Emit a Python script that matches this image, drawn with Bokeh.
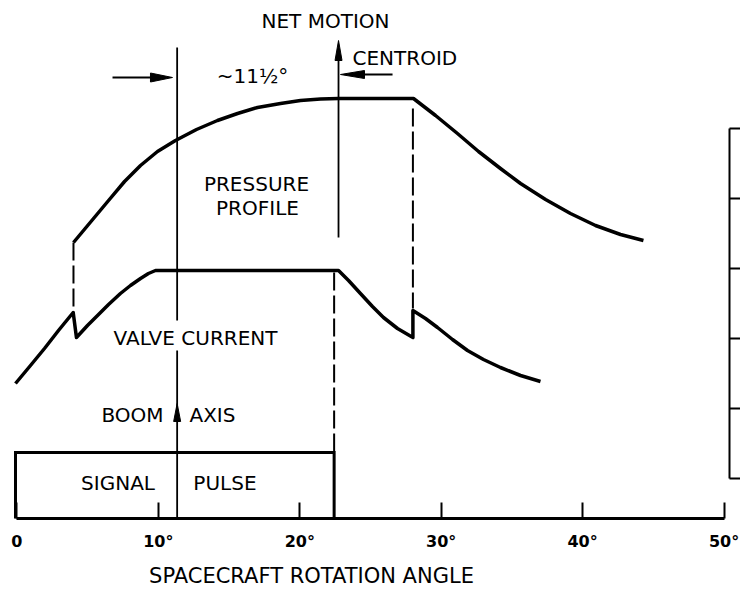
from bokeh.plotting import figure
from bokeh.models import LinearAxis, FixedTicker, Range1d
from bokeh.core.properties import value
from bokeh.embed import file_html
from bokeh.resources import INLINE

# ---------------- data (angle in degrees, level in arbitrary units) ----------------
ANGLE_TICKS = [0, 10, 20, 30, 40, 50]
ANGLE_LABELS = ["0", "10°", "20°", "30°", "40°", "50°"]

pressure_angle = [4.00, 6.48, 7.61, 8.74, 9.94, 11.21, 12.70, 14.18, 15.60, 17.01,
                  18.64, 20.05, 21.47, 22.74, 28.04,
                  29.60, 31.15, 32.64, 34.19, 35.61, 37.38, 39.14, 40.91, 42.68, 44.30]
pressure_level = [276, 318, 337, 353, 367, 378, 389, 398, 405, 411,
                  415, 418, 419.5, 420, 420,
                  403, 385, 367, 350, 335, 319, 305, 293, 284, 278]

valve_angle = [-0.10, 0.96, 1.95, 2.94, 3.98, 4.21, 4.99, 5.70, 6.48, 7.32, 8.03, 8.74, 9.30, 9.80,
               22.74, 23.45, 24.29, 25.14, 25.92, 26.91, 28.00,
               28.00, 28.89, 29.74, 30.80, 31.86, 32.99, 34.19, 35.61, 37.02]
valve_level = [135, 153, 170, 188, 206, 181, 193, 203, 214, 225, 233, 240, 245, 248,
               248, 238, 225, 212, 201, 190, 181,
               208, 200, 191, 179, 168, 159, 151, 143, 137]

pulse_angle = [-0.10, -0.10, 22.43, 22.43]
pulse_level = [0, 66, 66, 0]

BOOM_ANGLE = 11.33
CENTROID_ANGLE = 22.74
PULSE_END = 22.43
JUMP_1 = 4.00
JUMP_2 = 28.00

SCALE_TICKS = [40, 110, 180, 250, 320, 390]
SCALE_ANGLE = 50.39

# ---------------- figure ----------------
PX_PER_DEG = 14.143      # horizontal pixels per degree
PX_PER_UNIT = 1.0        # vertical pixels per level unit

p = figure(width=740, height=590,
           x_range=Range1d(-1.160, 51.163), y_range=Range1d(-72, 518),
           output_backend="svg", toolbar_location=None,
           x_axis_location=None, y_axis_location=None, min_border=0)
p.outline_line_color = None
p.background_fill_color = "white"
p.border_fill_color = "white"
p.grid.visible = False

INK = "black"
FONT = value("DejaVu Sans")

# bottom axis (spacecraft rotation angle)
xaxis = LinearAxis(ticker=FixedTicker(ticks=ANGLE_TICKS),
                   major_label_overrides={t: l for t, l in zip(ANGLE_TICKS, ANGLE_LABELS)},
                   fixed_location=0, bounds=(ANGLE_TICKS[0], ANGLE_TICKS[-1]))
xaxis.axis_line_width = 3
xaxis.axis_line_color = INK
xaxis.major_tick_in = 16
xaxis.major_tick_out = 0
xaxis.major_tick_line_width = 2
xaxis.major_tick_line_color = INK
xaxis.minor_tick_line_color = None
xaxis.major_label_standoff = 13
xaxis.major_label_text_font = "DejaVu Sans"
xaxis.major_label_text_font_style = "bold"
xaxis.major_label_text_font_size = "16px"
xaxis.major_label_text_color = INK
p.add_layout(xaxis, "below")

# right-hand scale bracket
yaxis = LinearAxis(ticker=FixedTicker(ticks=SCALE_TICKS), fixed_location=SCALE_ANGLE,
                   bounds=(SCALE_TICKS[0], SCALE_TICKS[-1]))
yaxis.axis_line_width = 2
yaxis.axis_line_color = INK
yaxis.major_tick_in = 0
yaxis.major_tick_out = 14
yaxis.major_tick_line_width = 2
yaxis.major_tick_line_color = INK
yaxis.minor_tick_line_color = None
yaxis.major_label_text_color = None
p.add_layout(yaxis, "right")

# curves
p.line(pressure_angle, pressure_level, line_width=3.5, line_color=INK, line_join="round")
p.line(valve_angle, valve_level, line_width=3.5, line_color=INK, line_join="round")
p.line(pulse_angle, pulse_level, line_width=3, line_color=INK, line_join="miter")

# dashed projection lines
p.multi_line(xs=[[JUMP_1, JUMP_1], [PULSE_END, PULSE_END], [JUMP_2, JUMP_2]],
             ys=[[276, 206], [246, 66], [410, 210]],
             line_width=2, line_color=INK, line_dash="18 5")

# boom axis and centroid lines
p.multi_line(xs=[[BOOM_ANGLE, BOOM_ANGLE], [BOOM_ANGLE, BOOM_ANGLE], [CENTROID_ANGLE, CENTROID_ANGLE]],
             ys=[[471, 198], [168, 0], [470, 281]],
             line_width=1.8, line_color=INK)

# horizontal arrow shafts
p.multi_line(xs=[[6.76, 10.0], [26.56, 23.9]], ys=[[441, 441], [444, 444]],
             line_width=1.8, line_color=INK)


def head(tx, ty, direction, length_px, width_px):
    ldeg = length_px / PX_PER_DEG
    hw_deg = width_px / 2 / PX_PER_DEG
    lu = length_px / PX_PER_UNIT
    hwu = width_px / 2 / PX_PER_UNIT
    if direction == "up":
        return [tx, tx - hw_deg, tx + hw_deg], [ty, ty - lu, ty - lu]
    if direction == "right":
        return [tx, tx - ldeg, tx - ldeg], [ty, ty + hwu, ty - hwu]
    return [tx, tx + ldeg, tx + ldeg], [ty, ty + hwu, ty - hwu]


heads = [head(CENTROID_ANGLE, 478, "up", 20, 7),
         head(BOOM_ANGLE, 115, "up", 18, 7),
         head(11.0, 441, "right", 22, 9),
         head(22.88, 444, "left", 24, 8)]
p.patches(xs=[h[0] for h in heads], ys=[h[1] for h in heads],
          fill_color=INK, line_color=INK, line_width=1)

# texts (vertically centred on the capital letters)
p.text(x=[21.82, 16.66, 16.94, 17.01, 12.63, 7.15, 14.71],
       y=[498, 443, 335, 311, 181, 36, 36],
       text=["NET MOTION", "~11½°", "PRESSURE", "PROFILE", "VALVE CURRENT", "SIGNAL", "PULSE"],
       text_font=FONT, text_font_size="20px", text_color=INK,
       text_align="center", text_baseline="middle")
p.text(x=[23.73, 12.20], y=[461, 104], text=["CENTROID", "AXIS"],
       text_font=FONT, text_font_size="20px", text_color=INK,
       text_align="left", text_baseline="middle")
p.text(x=[10.37], y=[104], text=["BOOM"],
       text_font=FONT, text_font_size="20px", text_color=INK,
       text_align="right", text_baseline="middle")
p.text(x=[20.83], y=[-57], text=["SPACECRAFT ROTATION ANGLE"],
       text_font=FONT, text_font_size="21px", text_color=INK,
       text_align="center", text_baseline="middle")

open("out.html", "w").write(file_html(p, INLINE))
